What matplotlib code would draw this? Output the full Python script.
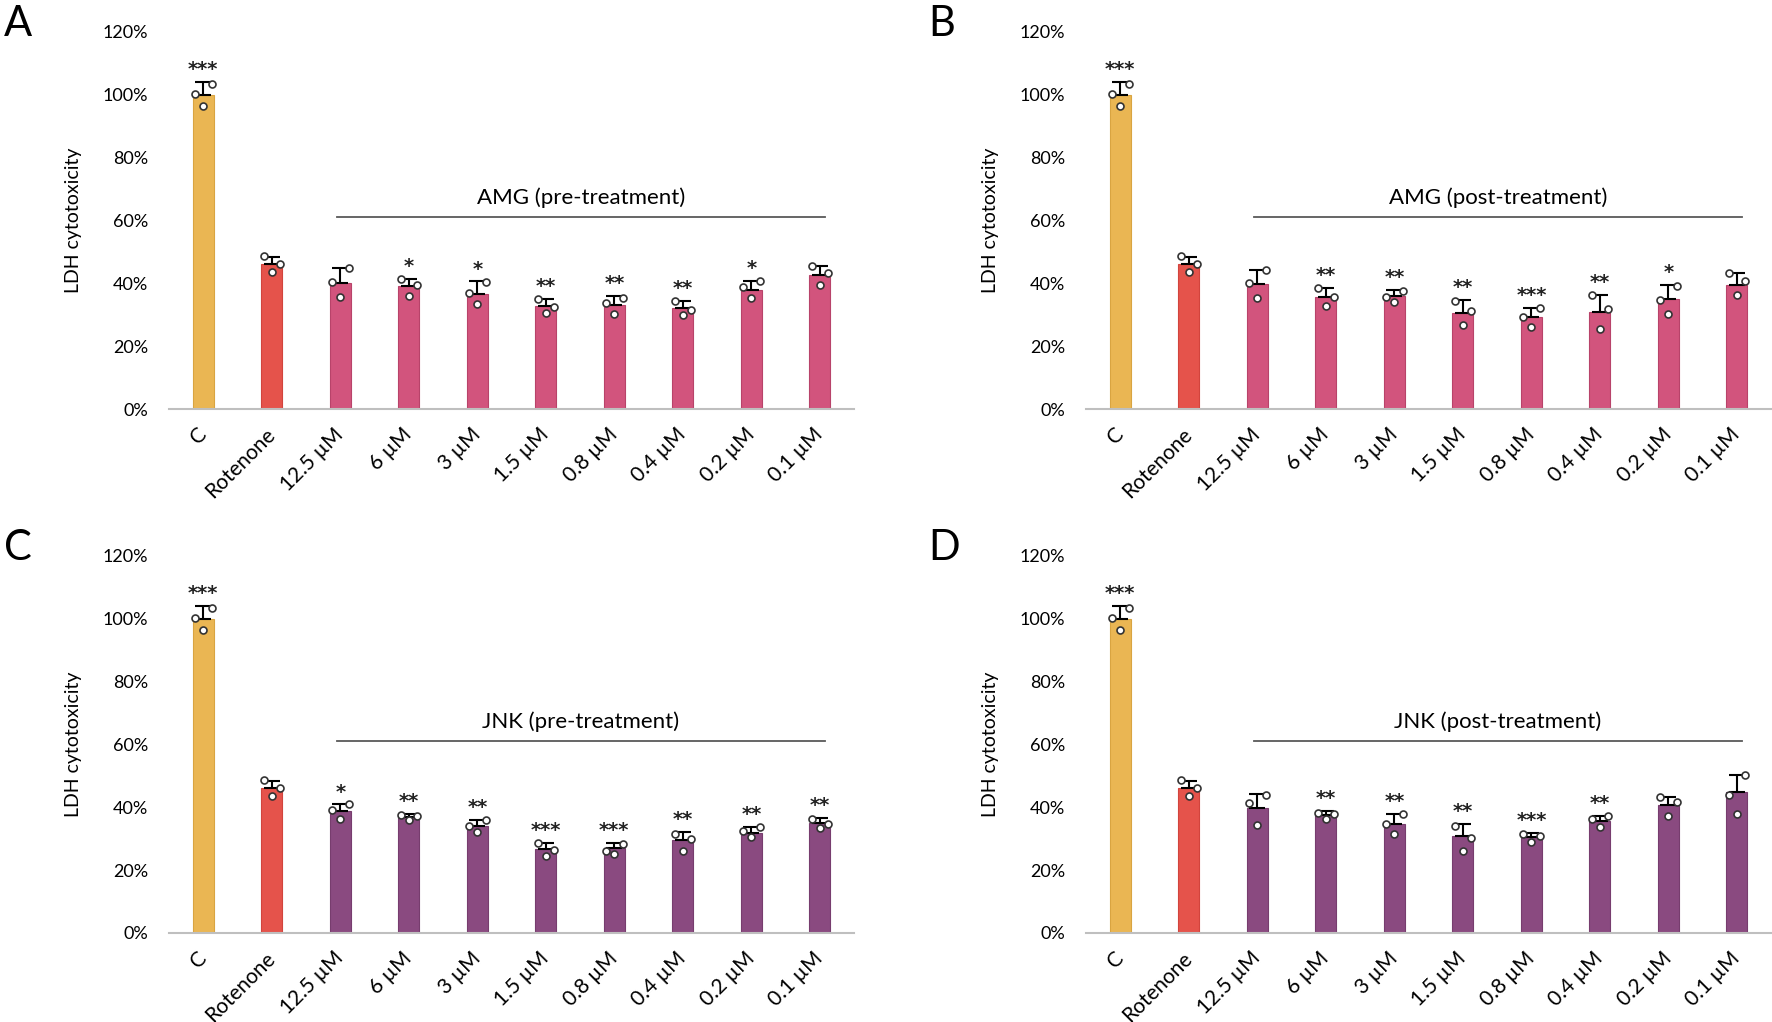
import matplotlib.pyplot as plt
import numpy as np

plt.rcParams['font.family'] = ['Lato', 'DejaVu Sans']

categories = ['C', 'Rotenone', '12.5 µM', '6 µM', '3 µM', '1.5 µM',
              '0.8 µM', '0.4 µM', '0.2 µM', '0.1 µM']

# panel A - AMG pre-treatment
A_mean = [100, 46.1, 40.0, 39.0, 36.7, 32.7, 33.0, 32.0, 38.0, 42.8]
A_err = [4.0, 2.2, 5.0, 2.5, 3.9, 2.2, 3.0, 2.4, 2.9, 2.8]
A_pts = [[100.4, 96.4, 103.4], [48.7, 43.7, 46.1], [40.5, 35.6, 45.0],
         [41.5, 36.0, 39.5], [37.0, 33.5, 40.5], [35.0, 30.5, 32.5],
         [33.6, 30.2, 35.3], [34.5, 29.8, 31.5], [38.9, 35.3, 40.6],
         [45.5, 39.5, 43.4]]
A_stars = ['***', '', '', '*', '*', '**', '**', '**', '*', '']

# panel B - AMG post-treatment
B_mean = [100, 46.1, 39.8, 35.5, 36.0, 30.6, 29.3, 30.9, 35.0, 39.5]
B_err = [4.0, 2.2, 4.6, 2.9, 1.9, 4.0, 2.9, 5.4, 4.5, 3.8]
B_pts = [[100.4, 96.4, 103.4], [48.7, 43.7, 46.1], [40.2, 35.2, 44.3],
         [38.4, 32.7, 35.5], [35.8, 34.2, 37.5], [34.3, 26.8, 31.2],
         [29.4, 26.2, 32.0], [36.3, 25.5, 31.7], [34.6, 30.1, 39.2],
         [43.2, 36.3, 40.6]]
B_stars = ['***', '', '', '**', '**', '**', '***', '**', '*', '']

# panel C - JNK pre-treatment
C_mean = [100, 46.1, 38.7, 37.0, 34.0, 26.6, 27.0, 29.6, 31.9, 34.9]
C_err = [4.0, 2.2, 2.2, 0.8, 2.0, 2.1, 1.7, 2.5, 1.8, 1.6]
C_pts = [[100.4, 96.4, 103.4], [48.7, 43.7, 46.1], [39.3, 36.2, 40.9],
         [37.5, 36.1, 37.2], [34.0, 32.0, 36.0], [28.7, 24.6, 26.4],
         [26.1, 25.0, 28.3], [31.6, 26.0, 30.0], [32.4, 30.6, 33.6],
         [36.4, 33.3, 34.6]]
C_stars = ['***', '', '*', '**', '**', '***', '***', '**', '**', '**']

# panel D - JNK post-treatment
D_mean = [100, 46.1, 39.9, 37.7, 34.8, 30.8, 30.6, 35.6, 40.7, 44.9]
D_err = [4.0, 2.2, 4.3, 1.1, 3.1, 3.8, 1.1, 1.7, 2.6, 5.3]
D_pts = [[100.4, 96.4, 103.4], [48.7, 43.7, 46.1], [41.4, 34.5, 43.9],
         [38.3, 36.4, 38.0], [34.6, 31.5, 37.8], [34.2, 26.0, 30.1],
         [31.4, 29.0, 30.9], [36.2, 33.7, 37.1], [43.3, 37.1, 41.7],
         [43.8, 38.0, 50.2]]
D_stars = ['***', '', '', '**', '**', '**', '***', '**', '', '']

panels = [
    ('A', A_mean, A_err, A_pts, A_stars, 'AMG (pre-treatment)', '#D2547D'),
    ('B', B_mean, B_err, B_pts, B_stars, 'AMG (post-treatment)', '#D2547D'),
    ('C', C_mean, C_err, C_pts, C_stars, 'JNK (pre-treatment)', '#8A4A80'),
    ('D', D_mean, D_err, D_pts, D_stars, 'JNK (post-treatment)', '#8A4A80'),
]

# axes rectangles in figure fractions
rects = [
    [0.0954, 0.5998, 0.3866, 0.3689],
    [0.6129, 0.5998, 0.3866, 0.3689],
    [0.0954, 0.0871, 0.3866, 0.3689],
    [0.6129, 0.0871, 0.3866, 0.3689],
]
letter_pos = [(0.002, 0.965), (0.524, 0.965), (0.002, 0.452), (0.524, 0.452)]

fig = plt.figure(figsize=(17.72, 10.22), dpi=100)

for (letter, mean, err, pts, stars, title, tcol), rect, lp in zip(panels, rects, letter_pos):
    ax = fig.add_axes(rect)
    x = np.arange(len(categories))
    colors = ['#EAB653', '#E5534B'] + [tcol] * (len(categories) - 2)
    edges = ['#D9A441', '#D2443D'] + ['#B8436A' if tcol == '#D2547D' else '#773D6E'] * (len(categories) - 2)
    ax.bar(x, mean, width=0.31, color=colors, edgecolor=edges, linewidth=0.8, zorder=2)
    ax.errorbar(x, mean, yerr=[np.zeros(len(err)), err], fmt='none', ecolor='black',
                elinewidth=1.5, capsize=6, capthick=1.5, zorder=3)
    for i, p in enumerate(pts):
        ax.plot(np.array([-0.12, 0.0, 0.12]) + i, p, 'o', ms=5, mfc='white',
                mec='#333333', mew=1.2, zorder=4, clip_on=False)
        if stars[i]:
            top = max(mean[i] + err[i], max(p))
            ax.annotate(stars[i], (i, top), xytext=(0, 5), textcoords='offset points',
                        ha='center', va='baseline', fontsize=14, fontweight='bold',
                        family='DejaVu Sans', color='#222222', zorder=5)

    # group bracket line and label
    ax.plot([1.95, 9.07], [61.1, 61.1], color='#595959', lw=1.3, zorder=1)
    ax.text((1.95 + 9.07) / 2, 65.2, title, ha='center', va='baseline', fontsize=16)

    ax.set_xlim(-0.5, 9.5)
    ax.set_ylim(0, 120)
    ax.set_yticks(np.arange(0, 121, 20))
    ax.set_yticklabels([f'{v}%' for v in range(0, 121, 20)])
    ax.set_xticks(x)
    ax.set_xticklabels(categories, rotation=45, ha='right', va='center',
                       rotation_mode='anchor', fontsize=15)
    ax.tick_params(axis='y', length=0, pad=15, labelsize=13)
    ax.tick_params(axis='x', length=0, pad=16)
    for s in ['top', 'right', 'left']:
        ax.spines[s].set_visible(False)
    ax.spines['bottom'].set_color('#BFBFBF')
    ax.spines['bottom'].set_linewidth(1.5)
    ax.set_ylabel('LDH cytotoxicity', fontsize=14)
    ax.yaxis.set_label_coords(-0.127, 0.5)

    fig.text(lp[0], lp[1], letter, fontsize=30, ha='left', va='baseline')

fig.savefig('out.png', dpi=100)
